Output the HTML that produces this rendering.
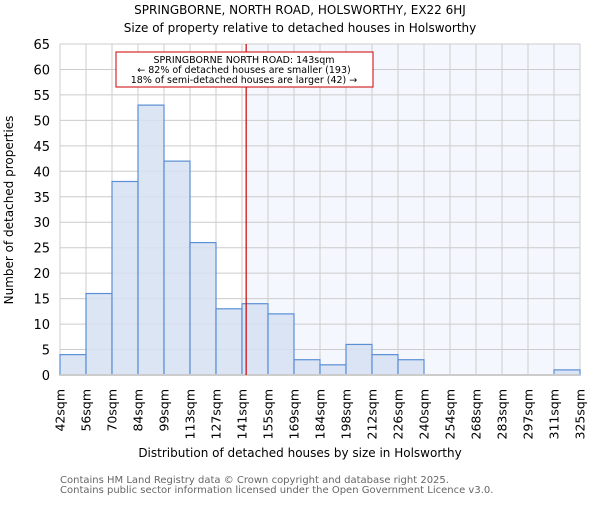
<!DOCTYPE html>
<html><head><meta charset="utf-8"><style>body{margin:0;background:#fff}svg{font-family:"DejaVu Sans","Liberation Sans",sans-serif}</style></head>
<body>
<svg id="c" width="600" height="500" xmlns="http://www.w3.org/2000/svg">
<text x="300" y="14" text-anchor="middle" font-size="12">SPRINGBORNE, NORTH ROAD, HOLSWORTHY, EX22 6HJ</text>
<text x="300" y="32" text-anchor="middle" font-size="12">Size of property relative to detached houses in Holsworthy</text>
<g id="plot"></g>
<text x="300" y="457" text-anchor="middle" font-size="12">Distribution of detached houses by size in Holsworthy</text>
<text transform="translate(13,210) rotate(-90)" text-anchor="middle" font-size="12">Number of detached properties</text>
<text x="60" y="483" font-size="10" fill="#666">Contains HM Land Registry data © Crown copyright and database right 2025.</text>
<text x="60" y="493" font-size="10" fill="#666">Contains public sector information licensed under the Open Government Licence v3.0.</text>
</svg>
<script>
const categories=["42sqm","56sqm","70sqm","84sqm","99sqm","113sqm","127sqm","141sqm","155sqm","169sqm","184sqm","198sqm","212sqm","226sqm","240sqm","254sqm","268sqm","283sqm","297sqm","311sqm","325sqm"];
const counts=[4,16,38,53,42,26,13,14,12,3,2,6,4,3,0,0,0,0,0,1];
const yTicks=[0,5,10,15,20,25,30,35,40,45,50,55,60,65];
const markerValue=7.16;
const L=60,R=580,T=44,B=375,YMAX=65;
const n=counts.length,bw=(R-L)/n;
const xs=i=>L+i*bw;
const ys=v=>B-(v/YMAX)*(B-T);
const NS="http://www.w3.org/2000/svg";
const g=document.getElementById('plot');
function mk(t,a,p){const e=document.createElementNS(NS,t);for(const k in a)e.setAttribute(k,a[k]);(p||g).appendChild(e);return e;}
const mx=xs(markerValue);
let e=mk('rect',{x:mx,y:T,width:R-mx,height:B-T,fill:'#f4f7fd'});


yTicks.forEach(v=>{
 let l=mk('line',{x1:L,x2:R,y1:ys(v),y2:ys(v),stroke:'#ccc'});
 
 
 let t=mk('text',{x:L-10,y:ys(v)+5,'text-anchor':'end','font-size':13});
 t.textContent=v;
 
 
});
categories.forEach((c,i)=>{
 let l=mk('line',{x1:xs(i),x2:xs(i),y1:T,y2:B,stroke:'#ccc'});
 
 
 let t=mk('text',{transform:`translate(${xs(i)+4.5},389) rotate(-90)`,'text-anchor':'end','font-size':12.5});
 t.textContent=c;
 
 
});
counts.forEach((v,i)=>{
 if(v<=0)return;
 let r=mk('rect',{x:xs(i),y:ys(v),width:bw,height:B-ys(v),fill:'#d6e1f2','fill-opacity':0.85,stroke:'#5a8fd6','stroke-width':1.2});
 
 
});
e=mk('line',{x1:L,x2:R,y1:B,y2:B,stroke:'#ccc','stroke-width':2});


e=mk('line',{x1:mx,x2:mx,y1:T,y2:B,stroke:'#cc0000','stroke-width':1.2});


const ann=mk('g',{});


mk('rect',{x:116,y:52,width:257,height:35,fill:'#fff',stroke:'#cc0000'},ann);
[["SPRINGBORNE NORTH ROAD: 143sqm",63],["← 82% of detached houses are smaller (193)",73],["18% of semi-detached houses are larger (42) →",83]].forEach(([s,y])=>{
 let t=mk('text',{x:244,y:y,'text-anchor':'middle','font-size':9.5},ann);
 t.textContent=s;
 
 
});
</script>
</body></html>
